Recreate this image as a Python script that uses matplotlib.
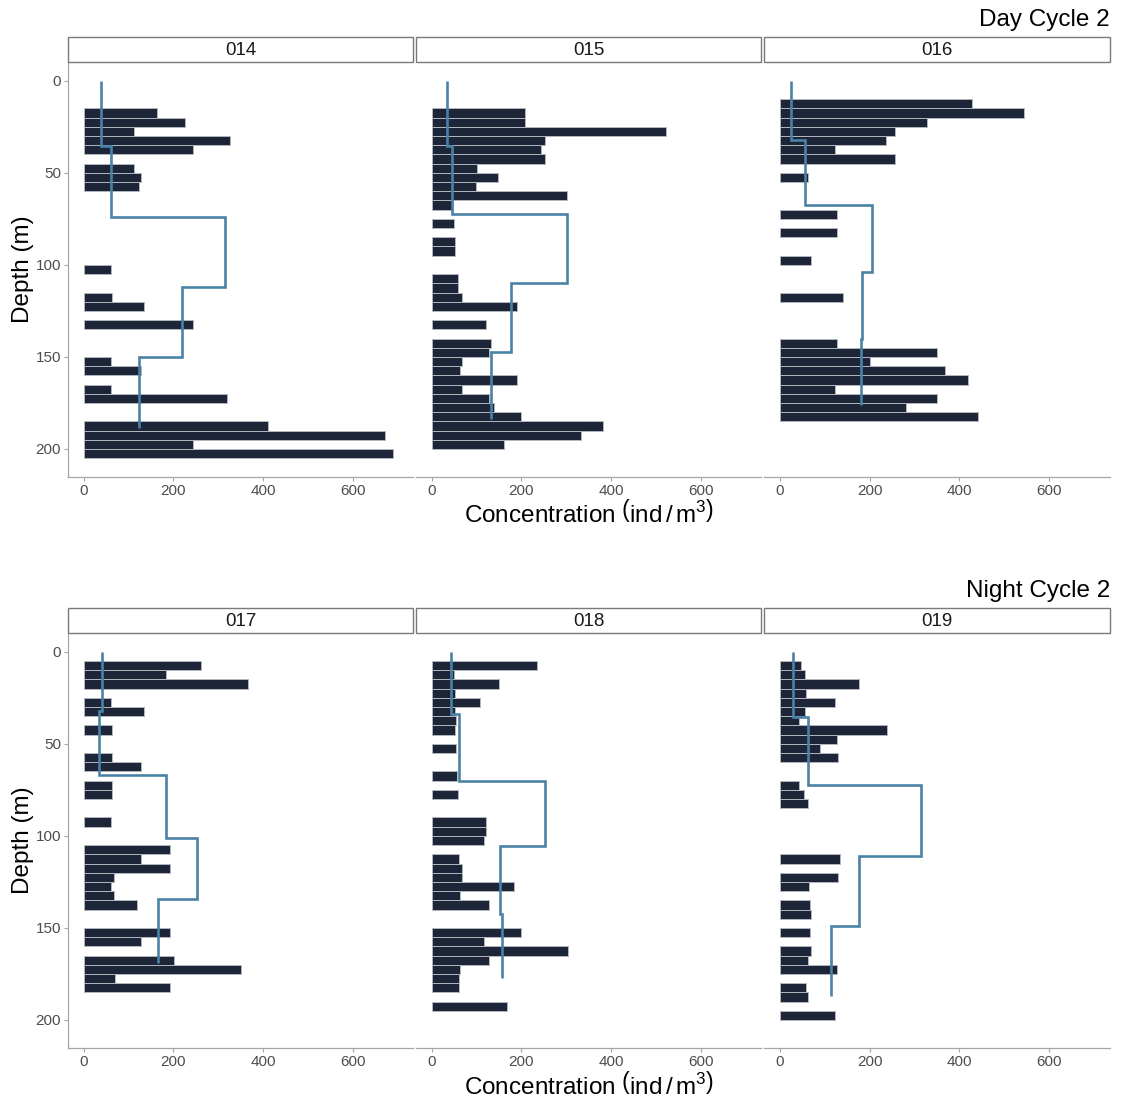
import matplotlib
matplotlib.use("Agg")
import matplotlib.pyplot as plt
from matplotlib.patches import Rectangle

plt.rcParams['font.family'] = ['Liberation Sans', 'DejaVu Sans']
plt.rcParams['mathtext.fontset'] = 'custom'
plt.rcParams['mathtext.rm'] = 'Liberation Sans'
plt.rcParams['mathtext.it'] = 'Liberation Sans:italic'

# ---- Day Cycle 2 ----
depth_014 = [17.5, 22.5, 27.5, 32.5, 37.5, 47.5, 52.5, 57.5, 102.5, 117.5, 122.5,
             132.5, 152.5, 157.5, 167.5, 172.5, 187.5, 192.5, 197.5, 202.5]
conc_014 = [163, 227, 113, 327, 245, 113, 128, 124, 62, 64, 134,
            245, 62, 128, 62, 319, 412, 673, 245, 691]
net_edges_014 = [0, 35.5, 74, 112, 150, 188.5]
net_conc_014 = [38, 61, 316, 219, 123]

depth_015 = [17.5, 22.5, 27.5, 32.5, 37.5, 42.5, 47.5, 52.5, 57.5, 62.5, 67.5, 77.5,
             87.5, 92.5, 107.5, 112.5, 117.5, 122.5, 132.5, 142.5, 147.5, 152.5,
             157.5, 162.5, 167.5, 172.5, 177.5, 182.5, 187.5, 192.5, 197.5]
conc_015 = [209, 209, 523, 253, 244, 253, 101, 147, 98, 303, 47, 50,
            52, 52, 58, 58, 67, 191, 122, 133, 127, 67,
            64, 191, 67, 127, 140, 199, 382, 333, 162]
net_edges_015 = [0, 35.5, 72.3, 110, 147.5, 184]
net_conc_015 = [34, 46, 302, 178, 132]

depth_016 = [12.5, 17.5, 22.5, 27.5, 32.5, 37.5, 42.5, 52.5, 72.5, 82.5, 97.5,
             117.5, 142.5, 147.5, 152.5, 157.5, 162.5, 167.5, 172.5, 177.5, 182.5]
conc_016 = [427, 544, 327, 256, 236, 123, 256, 62, 128, 128, 70,
            141, 128, 350, 201, 367, 420, 123, 350, 281, 441]
net_edges_016 = [0, 32, 67.6, 104, 140, 176]
net_conc_016 = [26, 56, 205, 184, 181]

# ---- Night Cycle 2 ----
depth_017 = [7.5, 12.5, 17.5, 27.5, 32.5, 42.5, 57.5, 62.5, 72.5, 77.5, 92.5, 107.5,
             112.5, 117.5, 122.5, 127.5, 132.5, 137.5, 152.5, 157.5, 167.5, 172.5,
             177.5, 182.5]
conc_017 = [262, 184, 367, 62, 134, 64, 64, 128, 64, 64, 62, 192,
            128, 192, 67, 62, 67, 118, 192, 128, 201, 350,
            71, 192]
net_edges_017 = [0, 32.3, 66.8, 101.3, 134.4, 169.2]
net_conc_017 = [41.5, 34, 184, 253, 166]

depth_018 = [7.5, 12.5, 17.5, 22.5, 27.5, 32.5, 37.5, 42.5, 52.5, 67.5, 77.5, 92.5,
             97.5, 102.5, 112.5, 117.5, 122.5, 127.5, 132.5, 137.5, 152.5, 157.5,
             162.5, 167.5, 172.5, 177.5, 182.5, 192.5]
conc_018 = [236, 50, 151, 53, 108, 51, 54, 52, 54, 56, 58, 122,
            122, 117, 61, 67, 67, 183, 64, 127, 199, 117,
            305, 127, 64, 61, 61, 169]
net_edges_018 = [0, 33.5, 70.3, 105.6, 142.2, 177.3]
net_conc_018 = [44, 61.5, 253, 153, 156]

depth_019 = [7.5, 12.5, 17.5, 22.5, 27.5, 32.5, 37.5, 42.5, 47.5, 52.5, 57.5, 72.5,
             77.5, 82.5, 112.5, 122.5, 127.5, 137.5, 142.5, 152.5, 162.5, 167.5,
             172.5, 182.5, 187.5, 197.5]
conc_019 = [48, 56, 177, 59, 123, 56, 44, 238, 127, 90, 130, 44,
            53, 62, 135, 129, 65, 67, 70, 67, 70, 64,
            128, 59, 62, 123]
net_edges_019 = [0, 35.3, 72.4, 111, 149, 187.2]
net_conc_019 = [30, 63, 315, 176, 113]

rows = [
    ("Day Cycle 2", [
        ("014", depth_014, conc_014, net_edges_014, net_conc_014),
        ("015", depth_015, conc_015, net_edges_015, net_conc_015),
        ("016", depth_016, conc_016, net_edges_016, net_conc_016),
    ]),
    ("Night Cycle 2", [
        ("017", depth_017, conc_017, net_edges_017, net_conc_017),
        ("018", depth_018, conc_018, net_edges_018, net_conc_018),
        ("019", depth_019, conc_019, net_edges_019, net_conc_019),
    ]),
]

BAR_COLOR = "#1c2638"
LINE_COLOR = "#4a82a6"
AXIS_GREY = "#a6a6a6"
TICK_TEXT = "#4d4d4d"

W, H = 1123, 1103
fig = plt.figure(figsize=(W / 100, H / 100), dpi=100)


def fx(px):
    return px / W


def fy(py):
    return 1 - py / H


panel_x = [(68, 413), (416, 761), (764, 1110)]
row_offsets = [0, 571]

for (title, panels), off in zip(rows, row_offsets):
    strip_top, strip_bot = 37 + off, 62 + off
    pan_top, pan_bot = 62 + off, 477 + off
    for i, ((name, dep, conc, edges, ncon), (x0, x1)) in enumerate(zip(panels, panel_x)):
        ax = fig.add_axes([fx(x0), fy(pan_bot), fx(x1 - x0), (pan_bot - pan_top) / H])
        ax.barh(dep, conc, height=5, color=BAR_COLOR, edgecolor="#b3b6bc",
                linewidth=0.7, zorder=2)
        ax.stairs(ncon, edges, orientation="horizontal", baseline=None,
                  color=LINE_COLOR, linewidth=1.9, zorder=3)
        ax.set_xlim(-35, 735)
        ax.set_ylim(215.25, -10.25)
        ax.set_xticks([0, 200, 400, 600])
        ax.set_yticks([0, 50, 100, 150, 200])
        for s in ["top", "right"]:
            ax.spines[s].set_visible(False)
        ax.spines["bottom"].set_color(AXIS_GREY)
        ax.spines["bottom"].set_linewidth(0.9)
        ax.tick_params(axis="both", colors=AXIS_GREY, labelcolor=TICK_TEXT,
                       labelsize=11, length=3, width=0.8, pad=2)
        if i == 0:
            ax.spines["left"].set_color(AXIS_GREY)
            ax.spines["left"].set_linewidth(0.9)
            ax.set_ylabel("Depth (m)", fontsize=17.5, color="black", labelpad=1)
        else:
            ax.spines["left"].set_visible(False)
            ax.tick_params(axis="y", left=False, labelleft=False)
        ax.set_facecolor("white")

        # facet strip
        sax = fig.add_axes([fx(x0), fy(strip_bot), fx(x1 - x0), (strip_bot - strip_top) / H])
        sax.set_xlim(0, 1)
        sax.set_ylim(0, 1)
        sax.axis("off")
        sax.add_patch(Rectangle((0, 0), 1, 1, transform=sax.transAxes, facecolor="white",
                                edgecolor="#7a7a7a", linewidth=1.0, clip_on=False))
        sax.text(0.5, 0.45, name, ha="center", va="center", fontsize=13.5, color="#1a1a1a")

    fig.text(fx(1110), fy(20 + off), title, ha="right", va="center", fontsize=17.5)
    fig.text(fx(589), fy(514 + off), r"Concentration $\left(\mathrm{ind}\,/\,\mathrm{m}^{3}\right)$",
             ha="center", va="center", fontsize=17.5)

fig.savefig("out.png", dpi=100, facecolor="white")
